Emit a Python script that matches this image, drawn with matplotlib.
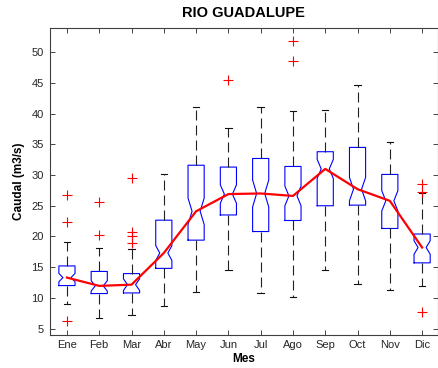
import matplotlib
matplotlib.use("Agg")
import matplotlib.pyplot as plt

plt.rcParams["font.family"] = ["Liberation Sans", "DejaVu Sans"]

# monthly flow statistics, Rio Guadalupe (m3/s)
months = ["Ene", "Feb", "Mar", "Abr", "May", "Jun",
          "Jul", "Ago", "Sep", "Oct", "Nov", "Dic"]
medians = [13.3, 11.95, 12.15, 17.3, 24.1, 26.9, 27.0, 26.6, 31.0, 27.7, 25.8, 18.2]
q1 = [12.0, 10.7, 10.8, 14.8, 19.4, 23.5, 20.8, 22.6, 25.0, 25.1, 21.3, 15.7]
q3 = [15.2, 14.3, 13.95, 22.65, 31.6, 31.3, 32.7, 31.4, 33.8, 34.5, 30.1, 20.4]
whisk_lo = [9.0, 6.7, 7.2, 8.6, 11.0, 14.5, 10.8, 10.1, 14.5, 12.2, 11.25, 11.9]
whisk_hi = [19.1, 18.1, 18.0, 30.2, 41.1, 37.7, 41.1, 40.4, 40.6, 44.6, 35.4, 27.1]
notch_half = [0.68, 0.85, 0.95, 1.2, 2.15, 1.5, 2.2, 1.6, 1.55, 1.9, 1.65, 1.1]
outliers = [
    [26.8, 22.4, 6.3],
    [25.6, 20.2],
    [29.5, 20.7, 20.0, 19.0],
    [],
    [],
    [45.5],
    [],
    [51.8, 48.6],
    [],
    [],
    [],
    [28.6, 27.2, 7.7],
]

stats = []
for i, m in enumerate(months):
    stats.append({
        "label": m,
        "med": medians[i],
        "q1": q1[i],
        "q3": q3[i],
        "whislo": whisk_lo[i],
        "whishi": whisk_hi[i],
        "cilo": medians[i] - notch_half[i],
        "cihi": medians[i] + notch_half[i],
        "fliers": outliers[i],
    })

positions = list(range(1, len(months) + 1))

fig = plt.figure(figsize=(4.39, 3.68), dpi=100)
ax = fig.add_axes([0.1128, 0.0905, 0.8855, 0.8326])

ax.bxp(
    stats,
    positions=positions,
    widths=0.5,
    capwidths=0.2,
    shownotches=True,
    showfliers=True,
    boxprops=dict(color="#0000ff", lw=0.8),
    whiskerprops=dict(color="#222222", lw=0.8, linestyle=(0, (9, 4.5))),
    capprops=dict(color="#111111", lw=0.8),
    medianprops=dict(linestyle="none"),
    flierprops=dict(marker="+", markeredgecolor="#ff0000", markersize=6.5,
                    markeredgewidth=0.8, linestyle="none"),
)

# median trend line
ax.plot(positions, medians, "-", color="#ff0000", lw=1.6, zorder=5)

ax.set_xlim(0.46, 12.5)
ax.set_ylim(4.0, 53.9)
ax.set_yticks(range(5, 55, 5))
ax.set_xticks(positions)
ax.set_xticklabels(months)

ax.tick_params(direction="in", top=True, right=True, length=3.5, width=0.6,
               labelsize=8, colors="#262626", pad=4)
for sp in ax.spines.values():
    sp.set_color("#404040")
    sp.set_linewidth(0.8)

ax.set_title("RIO GUADALUPE", fontsize=10.5, fontweight="bold", pad=8)
ax.set_xlabel("Mes", fontsize=8.5, fontweight="bold", labelpad=2)
ax.set_ylabel("Caudal (m3/s)", fontsize=8.5, fontweight="bold", labelpad=5)

fig.savefig("out.png", dpi=100)
